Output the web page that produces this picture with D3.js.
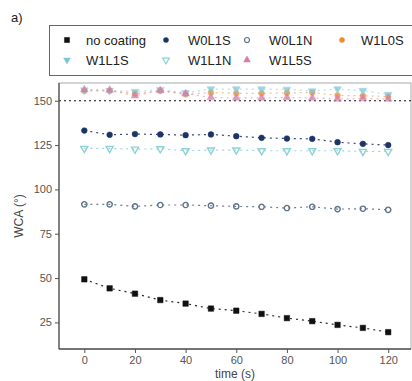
<!DOCTYPE html>
<html>
<head>
<meta charset="utf-8">
<script src="https://cdn.jsdelivr.net/npm/d3@7"></script>
<style>
  body { margin: 0; background: #fff; }
  svg { display: block; font-family: "Liberation Sans", Arial, sans-serif; }
</style>
</head>
<body>
<svg id="chart"></svg>
<script>
const times = [0, 10, 20, 30, 40, 50, 60, 70, 80, 90, 100, 110, 120];
const noCoating = [49.3, 44.2, 41.2, 37.6, 35.6, 32.8, 31.6, 29.8, 27.4, 25.7, 23.6, 21.9, 19.5];
const w0l1s = [133.2, 130.8, 131.2, 131.0, 130.6, 131.0, 130.0, 129.1, 128.7, 128.5, 126.6, 125.7, 125.0];
const w0l1n = [91.6, 91.6, 90.4, 91.2, 91.2, 90.8, 90.4, 90.2, 89.5, 90.2, 88.9, 89.1, 88.5];
const w1l0s = [155.6, 155.6, 154.0, 155.6, 153.6, 154.6, 154.2, 154.2, 154.4, 154.6, 153.0, 152.8, 152.4];
const w1l1s = [156.0, 155.8, 155.2, 156.2, 154.5, 156.6, 156.6, 156.6, 156.4, 155.5, 156.6, 155.8, 153.5];
const w1l1n = [123.1, 123.1, 122.7, 122.9, 121.8, 122.2, 122.2, 121.8, 121.8, 121.8, 121.8, 121.4, 121.4];
const w1l5s = [156.2, 156.0, 152.8, 155.8, 154.0, 151.8, 151.6, 151.6, 151.8, 151.6, 151.0, 151.2, 151.0];
const xTicks = [0, 20, 40, 60, 80, 100, 120];
const yTicks = [25, 50, 75, 100, 125, 150];
const threshold = 150;

const width = 412, height = 381;
const margin = { top: 83, right: 1, bottom: 32, left: 59 };

const series = [
  { name: 'no coating', values: noCoating, color: '#111', shape: 'square', open: false },
  { name: 'W0L1S', values: w0l1s, color: '#1c3466', shape: 'circle', open: false },
  { name: 'W0L1N', values: w0l1n, color: '#5d7189', shape: 'circle', open: true },
  { name: 'W1L0S', values: w1l0s, color: '#ec8a2c', shape: 'diamond', open: false },
  { name: 'W1L1S', values: w1l1s, color: '#7cc6d8', shape: 'down', open: false },
  { name: 'W1L1N', values: w1l1n, color: '#8fd2d6', shape: 'down', open: true },
  { name: 'W1L5S', values: w1l5s, color: '#d77aa6', shape: 'up', open: false }
];

const svg = d3.select('#chart').attr('width', width).attr('height', height);

const x = d3.scaleLinear().domain([-10, 129]).range([margin.left, width - margin.right]);
const y = d3.scaleLinear().domain([10, 160]).range([height - margin.bottom, margin.top]);

function symbolFor(s, size) {
  const types = {
    square: d3.symbolSquare, circle: d3.symbolCircle, diamond: d3.symbolCircle,
    down: d3.symbolTriangle, up: d3.symbolTriangle
  };
  return d3.symbol().type(types[s.shape]).size(size)();
}
const faded = s => s.shape === 'up' || s.shape === 'diamond' || s.name === 'W1L1S';

// panel frame (light grey top/right)
svg.append('rect')
   .attr('x', margin.left).attr('y', margin.top)
   .attr('width', width - margin.right - margin.left)
   .attr('height', height - margin.bottom - margin.top)
   .attr('fill', 'none').attr('stroke', '#aaa').attr('stroke-width', 1);

// dashed line at 150
svg.append('line')
   .attr('x1', x(-10)).attr('x2', x(129))
   .attr('y1', y(threshold)).attr('y2', y(threshold))
   .attr('stroke', '#111').attr('stroke-width', 1.2)
   .attr('stroke-dasharray', '2,3');

const line = d3.line().x((d, i) => x(times[i])).y(d => y(d));

series.forEach(s => {
  svg.append('path')
     .datum(s.values)
     .attr('fill', 'none')
     .attr('stroke', s.color)
     .attr('stroke-width', 1.2)
     .attr('stroke-dasharray', '2,4')
     .attr('opacity', faded(s) ? 0.55 : 0.9)
     .attr('d', line);

  svg.selectAll(null)
     .data(s.values)
     .enter()
     .append('path')
     .attr('transform', (d, i) => {
       const rot = s.shape === 'down' ? ' rotate(180)' : '';
       return `translate(${x(times[i])},${y(d)})${rot}`;
     })
     .attr('d', symbolFor(s, s.shape === 'square' ? 30 : s.open ? 22 : 26))
     .attr('fill', s.open ? 'none' : s.color)
     .attr('stroke', s.color)
     .attr('stroke-width', s.open ? 1.4 : 0.5)
     .attr('opacity', faded(s) ? 0.75 : 1);
});

// axes
const xAxis = svg.append('g')
   .attr('transform', `translate(0,${height - margin.bottom})`)
   .call(d3.axisBottom(x).tickValues(xTicks).tickSize(4).tickPadding(3));
const yAxis = svg.append('g')
   .attr('transform', `translate(${margin.left},0)`)
   .call(d3.axisLeft(y).tickValues(yTicks).tickSize(4).tickPadding(3));

[xAxis, yAxis].forEach(g => {
  g.select('.domain').remove();
  g.selectAll('line').attr('stroke', '#555');
  g.selectAll('text').attr('fill', '#555').style('font-size', '11px')
   .style('font-family', '"Liberation Sans", Arial, sans-serif');
});

svg.append('line')
   .attr('x1', margin.left).attr('x2', margin.left)
   .attr('y1', margin.top).attr('y2', height - margin.bottom)
   .attr('stroke', '#555').attr('stroke-width', 1.3);
svg.append('line')
   .attr('x1', margin.left).attr('x2', width - margin.right)
   .attr('y1', height - margin.bottom).attr('y2', height - margin.bottom)
   .attr('stroke', '#555').attr('stroke-width', 1.3);

svg.append('text')
   .attr('x', 235).attr('y', 378)
   .attr('text-anchor', 'middle')
   .attr('fill', '#444').style('font-size', '12px')
   .text('time (s)');

svg.append('text')
   .attr('transform', `translate(23,${(margin.top + height - margin.bottom) / 2}) rotate(-90)`)
   .attr('text-anchor', 'middle')
   .attr('fill', '#444').style('font-size', '12px')
   .text('WCA (°)');

svg.append('text')
   .attr('x', 11).attr('y', 22)
   .attr('fill', '#222').style('font-size', '13px')
   .text('a)');

// legend
const legend = svg.append('g');
legend.append('rect')
   .attr('x', 49.5).attr('y', 25.5).attr('width', 370).attr('height', 50)
   .attr('fill', '#fff').attr('stroke', '#666').attr('stroke-width', 1);

const legendPos = [[67, 40], [166, 40], [247, 40], [342, 40], [67, 60], [166, 60], [247, 60]];
series.forEach((s, i) => {
  const [lx, ly] = legendPos[i];
  legend.append('path')
     .attr('transform', `translate(${lx},${ly})${s.shape === 'down' ? ' rotate(180)' : ''}`)
     .attr('d', symbolFor(s, s.shape === 'square' ? 26 : 20))
     .attr('fill', s.open ? 'none' : s.color)
     .attr('stroke', s.color)
     .attr('stroke-width', s.open ? 1.2 : 0.5);
  legend.append('text')
     .attr('x', lx + (i === 0 || i === 4 || i === 3 ? 19 : 22)).attr('y', ly + 4.5)
     .attr('fill', '#222').style('font-size', '13px')
     .text(s.name);
});
</script>
</body>
</html>
